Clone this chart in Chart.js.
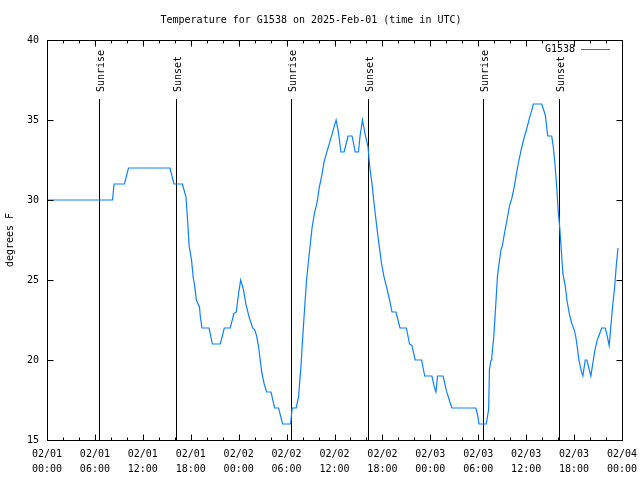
<!DOCTYPE html>
<html>
<head>
<meta charset="utf-8">
<script src="https://cdn.jsdelivr.net/npm/chart.js@4"></script>
<style>
  body { margin: 0; background: #fff; }
  canvas { display: block; }
</style>
</head>
<body>
<canvas id="myChart" width="640" height="480"></canvas>
<script>
'use strict';
// data: hours since 2025-02-01 00:00 UTC, temperature in F
let hours = [0, 8.2, 8.4, 9.7, 10.2, 15.4, 15.9, 16.95, 17.4, 17.6, 17.8, 18.1, 18.3, 18.5, 18.7, 19.1, 19.2, 19.4, 20.3, 20.7,
  21.7, 22.2, 22.95, 23.4, 23.7, 24.0, 24.25, 24.6, 24.9, 25.3, 25.75, 26.0, 26.25, 26.5, 26.75, 26.9, 27.2, 27.5, 28.05, 28.5,
  29.0, 29.5, 30.5, 30.7, 31.2, 31.5, 31.8, 32.0, 32.2, 32.5, 32.85, 33.2, 33.5, 33.8, 34.1, 34.4, 34.7, 35.1, 35.4, 35.85,
  36.2, 36.5, 36.8, 37.2, 37.7, 38.2, 38.6, 39.0, 39.2, 39.5, 39.8, 40.2, 40.4, 40.7, 40.95, 41.3, 41.6, 41.9, 42.2, 42.5,
  42.9, 43.2, 43.7, 44.2, 45.0, 45.4, 45.7, 46.1, 46.9, 47.3, 48.2, 48.5, 48.7, 48.9, 49.6, 50.0, 50.5, 50.7, 53.7, 53.9,
  54.1, 55.0, 55.3, 55.4, 55.6, 55.7, 55.95, 56.2, 56.4, 56.6, 56.85, 57.0, 57.35, 57.6, 57.9, 58.2, 58.5, 58.8, 59.1, 59.45,
  59.8, 60.1, 60.4, 60.7, 60.9, 61.95, 62.4, 62.7, 63.2, 63.4, 63.6, 63.8, 64.0, 64.2, 64.45, 64.6, 64.9, 65.1, 65.4, 65.7,
  66.0, 66.2, 66.4, 66.6, 66.9, 67.1, 67.4, 67.6, 68.1, 68.35, 68.6, 68.9, 69.25, 69.45, 69.9, 70.1, 70.4, 70.6, 70.85, 71.05,
  71.3, 71.5];
let temps = [30, 30, 31, 31, 32, 32, 31, 31, 30.2, 28.75, 27.1, 26.25, 25.2, 24.6, 23.75, 23.3, 22.7, 22, 22, 21,
  21, 22, 22, 22.9, 23, 24.2, 25, 24.4, 23.5, 22.7, 22, 21.9, 21.5, 20.8, 19.8, 19.2, 18.5, 18, 18, 17,
  17, 16, 16, 17, 17, 17.7, 19.6, 21.25, 22.8, 25, 26.7, 28.3, 29.2, 29.8, 30.8, 31.5, 32.4, 33.1, 33.6, 34.4,
  35, 34.2, 33, 33, 34, 34, 33, 33, 34, 35, 34.2, 33.3, 32.1, 31, 29.8, 28.3, 27.1, 26, 25.2, 24.6,
  23.75, 23, 23, 22, 22, 21, 20.9, 20, 20, 19, 19, 18.3, 18, 19, 19, 18.1, 17.3, 17, 17, 16.6,
  16, 16, 16.9, 19.4, 20, 20.2, 21.5, 23.5, 25.2, 26, 26.9, 27.1, 28.1, 28.75, 29.6, 30.1, 30.8, 31.7, 32.5, 33.3,
  34, 34.5, 35.1, 35.6, 36, 36, 35.3, 34, 34, 33.3, 32.3, 31, 29.4, 28.3, 26.5, 25.4, 24.6, 23.75, 22.9, 22.3,
  21.9, 21.5, 20.8, 20, 19.3, 19, 20, 20, 19, 19.8, 20.6, 21.25, 21.7, 22, 22, 21.6, 20.9, 22.1, 23.5, 24.4,
  26, 27];
let sunEvents = ['Sunrise', 'Sunset', 'Sunrise', 'Sunset', 'Sunrise', 'Sunset'];
let sunHours = [6.5, 16.15, 30.55, 40.2, 54.55, 64.1];
let yTicks = [15, 20, 25, 30, 35, 40];

let points = [];
for (let i = 0; i < hours.length; i++) {
  points.push({ x: hours[i], y: temps[i] });
}

const FONT = 'DejaVu Sans Mono';

// border, inward tics, sunrise/sunset markers and legend, like gnuplot
let gnuplotBits = {
  id: 'gnuplotBits',
  beforeDatasetsDraw(chart) {
    let c = chart.ctx;
    let area = chart.chartArea;
    let xs = chart.scales.x;
    c.save();
    c.strokeStyle = '#000';
    c.lineWidth = 1;
    c.fillStyle = '#000';
    c.font = '10px "' + FONT + '"';
    for (let i = 0; i < sunHours.length; i++) {
      let px = Math.round(xs.getPixelForValue(sunHours[i])) + 0.5;
      c.beginPath();
      c.moveTo(px, area.top + 59);
      c.lineTo(px, area.bottom);
      c.stroke();
      c.save();
      c.translate(px + 4, area.top + 52);
      c.rotate(-Math.PI / 2);
      c.textAlign = 'left';
      c.textBaseline = 'alphabetic';
      c.fillText(sunEvents[i], 0, 0);
      c.restore();
    }
    c.restore();
  },
  afterDraw(chart) {
    let c = chart.ctx;
    let area = chart.chartArea;
    let xs = chart.scales.x;
    let ys = chart.scales.y;
    c.save();
    c.strokeStyle = '#000';
    c.lineWidth = 1;
    let L = Math.round(area.left) + 0.5;
    let R = Math.round(area.right) + 0.5;
    let T = Math.round(area.top) + 0.5;
    let B = Math.round(area.bottom) + 0.5;
    c.strokeRect(L, T, R - L, B - T);
    c.beginPath();
    for (let h = 0; h <= 72; h += 2) {
      let px = Math.round(xs.getPixelForValue(h)) + 0.5;
      let len = h % 6 === 0 ? 6 : 3;
      c.moveTo(px, B); c.lineTo(px, B - len);
      c.moveTo(px, T); c.lineTo(px, T + len);
    }
    for (let i = 0; i < yTicks.length; i++) {
      let py = Math.round(ys.getPixelForValue(yTicks[i])) + 0.5;
      c.moveTo(L, py); c.lineTo(L + 6, py);
      c.moveTo(R, py); c.lineTo(R - 6, py);
    }
    c.stroke();
    // key
    let ds = chart.data.datasets[0];
    c.font = '10px "' + FONT + '"';
    c.fillStyle = '#000';
    c.textAlign = 'right';
    c.textBaseline = 'middle';
    c.fillText(ds.label, area.right - 47, area.top + 9);
    c.strokeStyle = ds.borderColor;
    c.beginPath();
    c.moveTo(area.right - 41, Math.round(area.top + 9) + 0.5);
    c.lineTo(area.right - 12, Math.round(area.top + 9) + 0.5);
    c.stroke();
    c.restore();
  }
};

new Chart(document.getElementById('myChart'), {
  type: 'line',
  data: {
    datasets: [{
      label: 'G1538',
      data: points,
      borderColor: '#0a80ff',
      borderWidth: 1.2,
      pointRadius: 0,
      tension: 0,
      fill: false
    }]
  },
  options: {
    responsive: false,
    animation: false,
    layout: { padding: { left: 0, right: 18, top: 0, bottom: 0 } },
    plugins: {
      legend: { display: false },
      tooltip: { enabled: false },
      title: {
        display: true,
        text: 'Temperature for G1538 on 2025-Feb-01 (time in UTC)',
        color: '#000',
        font: { family: FONT, size: 10, weight: 'normal' },
        padding: { top: 14, bottom: 14 }
      }
    },
    scales: {
      x: {
        type: 'linear',
        min: 0,
        max: 72,
        grid: { display: false, drawTicks: false },
        border: { display: false },
        ticks: {
          stepSize: 6,
          padding: 7,
          color: '#000',
          maxRotation: 0,
          autoSkip: false,
          font: { family: FONT, size: 10, lineHeight: 1.5 },
          callback: function (v) {
            let day = 1 + Math.floor(v / 24);
            let hh = v % 24;
            return ['02/0' + day, (hh < 10 ? '0' : '') + hh + ':00'];
          }
        },
        afterFit: function (s) {
          s.height = 40;
          s.paddingLeft = 0;
          s.paddingRight = 0;
        }
      },
      y: {
        min: 15,
        max: 40,
        grid: { display: false, drawTicks: false },
        border: { display: false },
        ticks: {
          stepSize: 5,
          padding: 8,
          color: '#000',
          font: { family: FONT, size: 10 }
        },
        title: {
          display: true,
          text: 'degrees F',
          color: '#000',
          font: { family: FONT, size: 10 },
          padding: { top: 4, bottom: 0 }
        },
        afterFit: function (s) { s.width = 47; }
      }
    }
  },
  plugins: [gnuplotBits]
});
</script>
</body>
</html>
